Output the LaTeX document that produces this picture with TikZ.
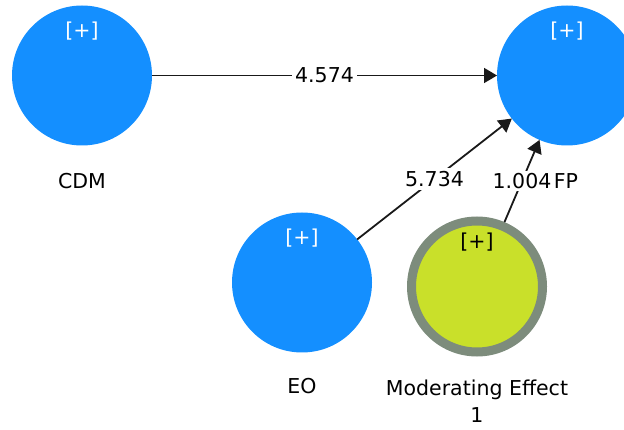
\documentclass[tikz,border=0pt]{standalone}
\usepackage{fontspec}
\setmainfont{DejaVu Sans}
\usetikzlibrary{arrows.meta}
\definecolor{lvblue}{RGB}{20,143,255}
\definecolor{modfill}{RGB}{201,224,42}
\definecolor{modring}{RGB}{125,140,124}
\definecolor{edgec}{RGB}{25,25,25}
\tikzset{
  lv/.style={circle, fill=lvblue, draw=none, minimum size=140pt, inner sep=0pt, outer sep=0pt},
  modlv/.style={circle, fill=modfill, draw=modring, line width=9pt, minimum size=131pt, inner sep=0pt},
  plustxt/.style={font=\fontsize{20.5}{24}\selectfont, text=white, inner sep=0pt},
  plusdark/.style={font=\fontsize{20.5}{24}\selectfont, text=black, inner sep=0pt},
  lvname/.style={font=\fontsize{20.5}{27}\selectfont, text=black, inner sep=0pt, align=center},
  pathedge/.style={draw=edgec, line width=1.8pt, -{Triangle[length=13pt,width=15pt]}},
  coef/.style={font=\fontsize{20.5}{24}\selectfont, fill=white, inner sep=3pt, text=black}
}
\begin{document}
\begin{tikzpicture}[x=1pt,y=-1pt]
\useasboundingbox (0,0) rectangle (624,430);
\node[lv] (cdm) at (82,75.5) {};
\node[lv] (fp) at (567,75.5) {};
\node[lv] (eo) at (302,282.5) {};
\node[modlv] (mod) at (477,286.5) {};
\node[plustxt] (cdmplus) at (82,31.5) {[+]};
\node[plustxt] (fpplus) at (567,31.5) {[+]};
\node[plustxt] (eoplus) at (302,238.5) {[+]};
\node[plusdark] (modplus) at (477,242.5) {[+]};
\draw[pathedge] (cdm) -- node[coef] (c1) {4.574} (fp);
\draw[pathedge] (eo) -- node[coef] (c2) {5.734} (fp);
\draw[pathedge] (mod) -- node[coef, inner sep=2pt] (c3) {1.004} (fp);
\node[lvname] (cdmname) at (82,181) {CDM};
\node[lvname] (fpname) at (566,181) {FP};
\node[lvname] (eoname) at (302,386) {EO};
\node[lvname, anchor=north] (modname) at (477,380) {Moderating Effect\\1};
\end{tikzpicture}
\end{document}
